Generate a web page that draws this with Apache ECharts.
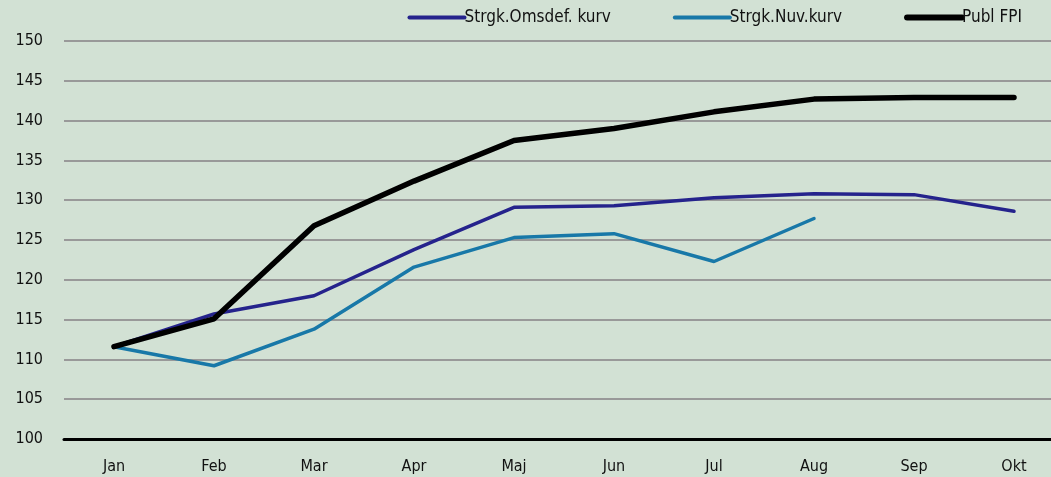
<!DOCTYPE html>
<html>
<head>
<meta charset="utf-8">
<script src="https://cdn.jsdelivr.net/npm/echarts@6/dist/echarts.min.js"></script>
<style>
  html, body { margin: 0; padding: 0; background: #d2e1d4; }
  #chart { width: 1051px; height: 477px; }
</style>
</head>
<body>
<div id="chart"></div>
<script>
const FONT = "'Liberation Sans Narrow', 'DejaVu Sans Condensed', 'Roboto Condensed', sans-serif";

const months = ['Jan', 'Feb', 'Mar', 'Apr', 'Maj', 'Jun', 'Jul', 'Aug', 'Sep', 'Okt'];
const omsdefKurv = [111.6, 115.7, 118.0, 123.8, 129.1, 129.3, 130.3, 130.8, 130.7, 128.6];
const nuvKurv = [111.6, 109.2, 113.8, 121.6, 125.3, 125.8, 122.3, 127.7, null, null];
const publFpi = [111.6, 115.1, 126.8, 132.4, 137.5, 139.0, 141.1, 142.7, 142.9, 142.9];

const chart = echarts.init(document.getElementById('chart'), null, { renderer: 'canvas' });

chart.setOption({
  animation: false,
  backgroundColor: '#d2e1d4',
  textStyle: { fontFamily: FONT },
  legend: {
    top: 4,
    right: 24,
    itemWidth: 55,
    itemHeight: 12,
    itemGap: 62,
    itemStyle: { opacity: 0 },
    textStyle: { color: '#111', fontSize: 17, fontFamily: FONT, padding: [0, 0, 0, -5] },
    data: [
      { name: 'Strgk.Omsdef. kurv', lineStyle: { width: 4, cap: 'round' } },
      { name: 'Strgk.Nuv.kurv', lineStyle: { width: 4, cap: 'round' } },
      { name: 'Publ FPI', lineStyle: { width: 6, cap: 'round' } },
    ],
  },
  grid: {
    top: 41,
    left: 64,
    right: -13,
    bottom: 38,
    outerBoundsMode: 'none',
    containLabel: false,
  },
  xAxis: {
    type: 'category',
    data: months,
    boundaryGap: true,
    axisLine: { show: true, lineStyle: { color: '#000', width: 3 } },
    axisTick: { show: false },
    axisLabel: { color: '#111', fontSize: 16, fontFamily: FONT, margin: 20 },
    splitLine: { show: false },
  },
  yAxis: {
    type: 'value',
    min: 100,
    max: 150,
    interval: 5,
    axisLine: { show: false },
    axisTick: { show: false },
    axisLabel: { color: '#111', fontSize: 16, fontFamily: FONT, margin: 21 },
    splitLine: { show: true, lineStyle: { color: '#999', width: 2 } },
  },
  series: [
    {
      name: 'Strgk.Omsdef. kurv',
      type: 'line',
      data: omsdefKurv,
      symbol: 'none',
      color: '#25238c',
      lineStyle: { color: '#25238c', width: 3.5, cap: 'round' },
      z: 3,
    },
    {
      name: 'Strgk.Nuv.kurv',
      type: 'line',
      data: nuvKurv,
      symbol: 'none',
      color: '#1878a8',
      lineStyle: { color: '#1878a8', width: 3.5, cap: 'round' },
      z: 2,
    },
    {
      name: 'Publ FPI',
      type: 'line',
      data: publFpi,
      symbol: 'none',
      color: '#000',
      lineStyle: { color: '#000', width: 5.5, cap: 'round' },
      z: 4,
    },
  ],
});
</script>
</body>
</html>
